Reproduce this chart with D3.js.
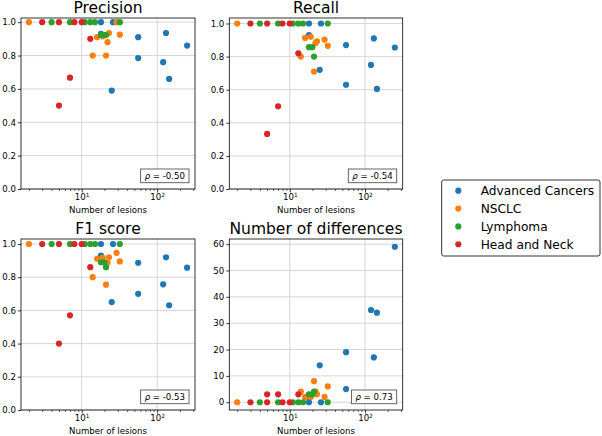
<!DOCTYPE html>
<html>
<head>
<meta charset="utf-8">
<script src="https://cdn.jsdelivr.net/npm/d3@7"></script>
<style>
  html, body { margin: 0; padding: 0; background: #fff; }
  svg { display: block; font-family: "DejaVu Sans", sans-serif; }
</style>
</head>
<body>
<svg id="chart" width="602" height="436"></svg>
<script>
// ---- DATA ----
const seriesNames = ["Advanced Cancers", "NSCLC", "Lymphoma", "Head and Neck"];
const seriesColors = ["#1f77b4", "#ff7f0e", "#2ca02c", "#d62728"];

// number of lesions per patient, one array per series
const lesions = [
  [18, 18, 26, 25, 56, 56, 120, 131, 144, 249],
  [2, 14, 16, 19, 21, 22, 23, 29, 32],
  [4, 7, 11, 13, 15, 18, 20, 21, 32],
  [3, 5, 5, 7, 8, 10, 13]
];
const precision = [
  [1.0, 0.93, 1.0, 0.59, 0.91, 0.785, 0.76, 0.935, 0.66, 0.86],
  [1.0, 0.80, 0.91, 0.915, 0.80, 0.88, 0.935, 1.0, 0.925],
  [1, 1, 1, 1, 1, 0.923, 0.923, 0.923, 1],
  [1, 1, 0.5, 0.667, 1, 1, 0.9]
];
const recall = [
  [1.0, 0.93, 1.0, 0.72, 0.87, 0.63, 0.75, 0.91, 0.605, 0.855],
  [1.0, 0.80, 0.913, 0.92, 0.71, 0.883, 0.893, 0.903, 0.865],
  [1, 1, 1, 1, 1, 0.857, 0.857, 0.80, 1],
  [1, 1, 0.333, 0.5, 1, 1, 0.82]
];
const f1score = [
  [1.0, 0.93, 1.0, 0.65, 0.887, 0.70, 0.757, 0.92, 0.631, 0.857],
  [1.0, 0.80, 0.911, 0.917, 0.755, 0.887, 0.92, 0.947, 0.895],
  [1, 1, 1, 1, 1, 0.89, 0.889, 0.86, 1],
  [1, 1, 0.4, 0.57, 1, 1, 0.86]
];
const differences = [
  [0, 2, 0, 14, 5, 19, 35, 17, 34, 59],
  [0, 4, 2, 2, 8, 4, 3, 2, 6],
  [0, 0, 0, 0, 0, 3, 3, 4, 0],
  [0, 0, 3, 3, 0, 0, 3]
];
const panelTitles = ["Precision", "Recall", "F1 score", "Number of differences"];
const rhoLabels = ["-0.50", "-0.54", "-0.53", "0.73"];
const unitTicks = [0, 0.2, 0.4, 0.6, 0.8, 1.0];
const diffTicks = [0, 10, 20, 30, 40, 50, 60];
const xMajorTicks = [10, 100];
const xLabel = "Number of lesions";

// ---- LAYOUT ----
const svg = d3.select("#chart");
const cols = [[21, 195], [229.3, 402.7]];
const rows = [[18, 189], [239, 410]];
const panelDefs = [
  { values: precision, col: 0, row: 0, ticks: unitTicks, fmt: d3.format(".1f") },
  { values: recall, col: 1, row: 0, ticks: unitTicks, fmt: d3.format(".1f") },
  { values: f1score, col: 0, row: 1, ticks: unitTicks, fmt: d3.format(".1f") },
  { values: differences, col: 1, row: 1, ticks: diffTicks, fmt: d3.format("d") }
];

// x domain: data extent padded by 5% in log space (matplotlib autoscale)
const allX = lesions.flat();
const lx0 = Math.log10(d3.min(allX)), lx1 = Math.log10(d3.max(allX));
const lpad = (lx1 - lx0) * 0.05;
const xDomain = [Math.pow(10, lx0 - lpad), Math.pow(10, lx1 + lpad)];

const minorTicks = [];
for (let dec = 1; dec <= 100; dec *= 10) {
  for (let m = 2; m <= 9; m++) {
    const v = m * dec;
    if (v >= xDomain[0] && v <= xDomain[1]) minorTicks.push(v);
  }
}

const tickFont = 8.6;
const gridColor = "#cccccc";

panelDefs.forEach((p, i) => {
  const [xa, xb] = cols[p.col];
  const [ya, yb] = rows[p.row];
  const all = p.values.flat();
  const vmin = 0, vmax = d3.max(all), dmin = d3.min(all);
  const margin = (vmax - dmin) * 0.05;
  const yDomain = (i === 3) ? [vmin - (vmax - vmin) * 0.05, vmax + (vmax - vmin) * 0.05] : [0, vmax + margin];

  const x = d3.scaleLog().domain(xDomain).range([xa, xb]);
  const y = d3.scaleLinear().domain(yDomain).range([yb, ya]);

  const g = svg.append("g");

  // grid
  g.append("g").selectAll("line").data(p.ticks).join("line")
    .attr("x1", xa).attr("x2", xb)
    .attr("y1", d => y(d)).attr("y2", d => y(d))
    .attr("stroke", gridColor).attr("stroke-width", 0.8);
  g.append("g").selectAll("line").data(xMajorTicks).join("line")
    .attr("y1", ya).attr("y2", yb)
    .attr("x1", d => x(d)).attr("x2", d => x(d))
    .attr("stroke", gridColor).attr("stroke-width", 0.8);

  // points
  p.values.forEach((vals, s) => {
    g.append("g").selectAll("circle").data(vals.map((v, k) => [lesions[s][k], v])).join("circle")
      .attr("cx", d => x(d[0])).attr("cy", d => y(d[1]))
      .attr("r", 3.1).attr("fill", seriesColors[s]);
  });

  // spines
  g.append("rect").attr("x", xa).attr("y", ya).attr("width", xb - xa).attr("height", yb - ya)
    .attr("fill", "none").attr("stroke", "#000").attr("stroke-width", 0.8);

  // y axis
  const yAxis = d3.axisLeft(y).tickValues(p.ticks).tickFormat(p.fmt).tickSize(3).tickPadding(2);
  const gy = g.append("g").attr("transform", `translate(${xa},0)`).call(yAxis);
  gy.select(".domain").remove();
  gy.selectAll(".tick line").attr("stroke", "#000").attr("stroke-width", 0.8);
  gy.selectAll(".tick text").attr("font-size", tickFont).attr("font-family", "DejaVu Sans").attr("fill", "#000");

  // x minor ticks
  const gxm = g.append("g").attr("transform", `translate(0,${yb})`)
    .call(d3.axisBottom(x).tickValues(minorTicks).tickFormat("").tickSize(2));
  gxm.select(".domain").remove();
  gxm.selectAll(".tick line").attr("stroke", "#000").attr("stroke-width", 0.6);

  // x major ticks
  const gx = g.append("g").attr("transform", `translate(0,${yb})`)
    .call(d3.axisBottom(x).tickValues(xMajorTicks).tickSize(3.5));
  gx.select(".domain").remove();
  gx.selectAll(".tick line").attr("stroke", "#000").attr("stroke-width", 0.8);
  gx.selectAll(".tick text").text(null)
    .attr("y", 10.5).attr("dy", 0).attr("font-size", tickFont).attr("font-family", "DejaVu Sans").attr("fill", "#000")
    .each(function(d) {
      const t = d3.select(this);
      t.append("tspan").text("10");
      t.append("tspan").attr("dy", -3).attr("font-size", 5.8).text(Math.round(Math.log10(d)));
    });

  // x label
  g.append("text").attr("x", (xa + xb) / 2).attr("y", yb + 23.5)
    .attr("text-anchor", "middle").attr("font-size", tickFont).text(xLabel);

  // title
  g.append("text").attr("x", (xa + xb) / 2).attr("y", ya - 4.8)
    .attr("text-anchor", "middle").attr("font-size", 15.5).text(panelTitles[i]);

  // rho box
  const rbox = g.append("rect");
  const rt = g.append("text").attr("font-size", tickFont).attr("text-anchor", "end")
    .attr("x", xb - 10).attr("y", yb - 10);
  rt.append("tspan").attr("font-style", "italic").text("ρ");
  rt.append("tspan").text(" = " + rhoLabels[i]);
  const bb = rt.node().getBBox();
  rbox.attr("x", bb.x - 4).attr("y", yb - 6.3 - 13.7)
    .attr("width", bb.width + 8).attr("height", 13.7)
    .attr("fill", "#fff").attr("stroke", "#555").attr("stroke-width", 0.9);
});

// legend
const lg = svg.append("g");
lg.append("rect").attr("x", 441.7).attr("y", 180).attr("width", 158.3).attr("height", 76)
  .attr("rx", 2).attr("fill", "#fff").attr("stroke", "#333").attr("stroke-width", 1);
seriesNames.forEach((name, s) => {
  const cy = 190.7 + s * 17.85;
  lg.append("circle").attr("cx", 458.3).attr("cy", cy).attr("r", 3.1).attr("fill", seriesColors[s]);
  lg.append("text").attr("x", 480.7).attr("y", cy).attr("dy", "0.36em")
    .attr("font-size", 12.2).text(name);
});
</script>
</body>
</html>
